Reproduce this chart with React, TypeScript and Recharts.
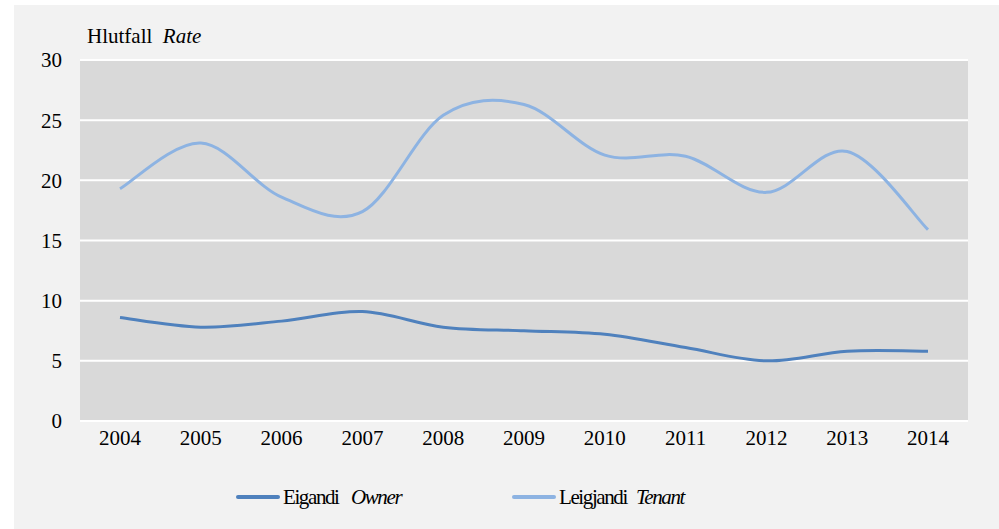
import React from "react";
import { LineChart, Line, XAxis, YAxis, CartesianGrid, Legend } from "recharts";

const years = ["2004", "2005", "2006", "2007", "2008", "2009", "2010", "2011", "2012", "2013", "2014"];
const owner = [8.6, 7.8, 8.3, 9.1, 7.8, 7.5, 7.2, 6.1, 5.0, 5.8, 5.8];
const tenant = [19.3, 23.1, 18.6, 17.4, 25.4, 26.3, 22.1, 22.0, 19.0, 22.4, 15.9];
const yTicks = [0, 5, 10, 15, 20, 25, 30];
const seriesIs = ["Eigandi", "Leigjandi"];
const seriesEn = ["Owner", "Tenant"];

const data = years.map((y, i) => ({ year: y, owner: owner[i], tenant: tenant[i] }));

const FONT = "'Liberation Serif', 'Times New Roman', Times, serif";

// Excel-style smoothing (Catmull-Rom through the points)
function smoothCurve(context: any) {
  let pts: number[][] = [];
  return {
    areaStart() {},
    areaEnd() {},
    lineStart() {
      pts = [];
    },
    point(x: number, y: number) {
      pts.push([+x, +y]);
    },
    lineEnd() {
      if (!pts.length) return;
      context.moveTo(pts[0][0], pts[0][1]);
      for (let i = 0; i < pts.length - 1; i++) {
        const p0 = pts[i - 1] || pts[i];
        const p1 = pts[i];
        const p2 = pts[i + 1];
        const p3 = pts[i + 2] || p2;
        context.bezierCurveTo(
          p1[0] + (p2[0] - p0[0]) / 6,
          p1[1] + (p2[1] - p0[1]) / 6,
          p2[0] - (p3[0] - p1[0]) / 6,
          p2[1] - (p3[1] - p1[1]) / 6,
          p2[0],
          p2[1]
        );
      }
    },
  };
}

function renderLegend(props: any) {
  const items = props.payload || [];
  return (
    <div style={{ display: "flex", height: 24, paddingLeft: 236, fontFamily: FONT, fontSize: 21, lineHeight: "24px", letterSpacing: -1.4, color: "#000" }}>
      {items.map((it: any, i: number) => (
        <div key={i} style={{ display: "flex", alignItems: "center", width: i === 0 ? 276 : 200 }}>
          <span style={{ display: "inline-block", width: 44, height: 4, borderRadius: 2, background: it.color, marginRight: 3 }} />
          <span style={{ display: "inline-block", width: i === 0 ? 68 : 77 }}>{it.value}</span>
          <span style={{ fontStyle: "italic" }}>{seriesEn[seriesIs.indexOf(it.value)]}</span>
        </div>
      ))}
    </div>
  );
}

export default function App() {
  return (
    <div style={{ position: "absolute", left: 0, top: 0, width: 999, height: 529, background: "#fff", overflow: "hidden" }}>
      <div style={{ position: "absolute", left: 14, top: 5, width: 985, height: 524, background: "#f2f2f2" }} />
      <div style={{ position: "absolute", left: 87, top: 24, fontFamily: FONT, fontSize: 21, color: "#000", whiteSpace: "pre" }}>
        Hlutfall  <i>Rate</i>
      </div>
      <div style={{ position: "absolute", left: 0, top: 0 }}>
        <LineChart width={999} height={529} data={data} margin={{ top: 60, right: 31, left: 20, bottom: 54 }}>
          <CartesianGrid vertical={false} stroke="#ffffff" strokeWidth={2} fill="#d9d9d9" />
          <XAxis
            dataKey="year"
            axisLine={false}
            tickLine={false}
            tickSize={0}
            tickMargin={9}
            height={30}
            padding={{ left: 40, right: 40 }}
            tick={{ fill: "#000", fontSize: 21, fontFamily: FONT }}
          />
          <YAxis
            domain={[0, 30]}
            ticks={yTicks}
            axisLine={false}
            tickLine={false}
            tickSize={0}
            tickMargin={18}
            width={60}
            tick={{ fill: "#000", fontSize: 21, fontFamily: FONT }}
          />
          <Line
            dataKey="owner"
            name={seriesIs[0]}
            stroke="#4f81bd"
            strokeWidth={3}
            dot={false}
            type={smoothCurve as any}
            isAnimationActive={false}
          />
          <Line
            dataKey="tenant"
            name={seriesIs[1]}
            stroke="#8db3e2"
            strokeWidth={3}
            dot={false}
            type={smoothCurve as any}
            isAnimationActive={false}
          />
          <Legend
            content={renderLegend}
            wrapperStyle={{ position: "absolute", left: 0, top: 485, width: 999 }}
          />
        </LineChart>
      </div>
    </div>
  );
}
